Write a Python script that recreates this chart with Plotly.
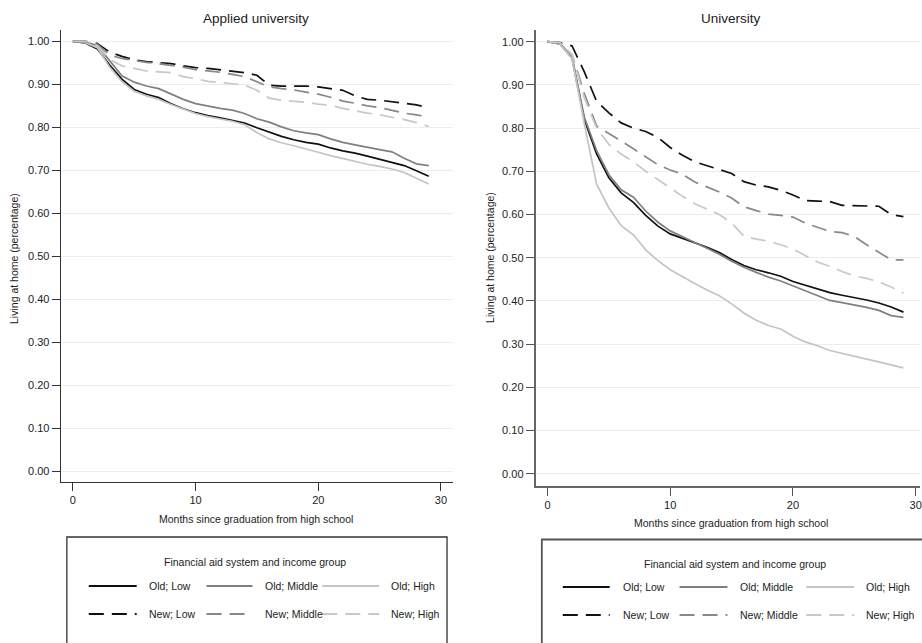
import plotly.graph_objects as go

W, H = 922, 643

months = list(range(30))

# Applied university
au_old_low = [1.0, 0.996, 0.982, 0.945, 0.912, 0.888, 0.877, 0.869, 0.855, 0.843, 0.834, 0.827, 0.822, 0.816, 0.810,
              0.799, 0.789, 0.779, 0.771, 0.765, 0.761, 0.752, 0.745, 0.740, 0.733, 0.726, 0.719, 0.711, 0.699, 0.686]
au_old_mid = [1.0, 0.998, 0.990, 0.955, 0.920, 0.905, 0.896, 0.890, 0.877, 0.865, 0.855, 0.849, 0.844, 0.840, 0.832,
              0.820, 0.812, 0.801, 0.792, 0.787, 0.783, 0.773, 0.765, 0.759, 0.753, 0.748, 0.743, 0.728, 0.715, 0.711]
au_old_high = [1.0, 0.997, 0.985, 0.940, 0.906, 0.884, 0.873, 0.865, 0.853, 0.842, 0.832, 0.825, 0.820, 0.814, 0.806,
               0.788, 0.773, 0.764, 0.757, 0.750, 0.742, 0.734, 0.727, 0.720, 0.714, 0.709, 0.703, 0.695, 0.682, 0.668]
au_new_low = [1.0, 1.0, 0.995, 0.975, 0.965, 0.957, 0.953, 0.951, 0.948, 0.943, 0.939, 0.937, 0.934, 0.931, 0.927,
              0.921, 0.898, 0.896, 0.896, 0.896, 0.894, 0.890, 0.886, 0.873, 0.865, 0.863, 0.860, 0.856, 0.852, 0.846]
au_new_mid = [1.0, 1.0, 0.993, 0.968, 0.960, 0.955, 0.951, 0.948, 0.944, 0.940, 0.934, 0.931, 0.928, 0.923, 0.918,
              0.906, 0.894, 0.890, 0.887, 0.882, 0.877, 0.870, 0.861, 0.856, 0.850, 0.846, 0.840, 0.833, 0.829, 0.824]
au_new_high = [1.0, 1.0, 0.990, 0.958, 0.943, 0.937, 0.931, 0.929, 0.927, 0.918, 0.912, 0.907, 0.904, 0.901, 0.898,
               0.886, 0.868, 0.863, 0.861, 0.858, 0.854, 0.851, 0.844, 0.838, 0.833, 0.829, 0.824, 0.818, 0.811, 0.802]

# University
u_old_low = [1.0, 0.995, 0.962, 0.820, 0.740, 0.685, 0.650, 0.628, 0.598, 0.573, 0.555, 0.545, 0.535, 0.524, 0.512,
             0.496, 0.482, 0.472, 0.465, 0.457, 0.445, 0.436, 0.427, 0.419, 0.413, 0.408, 0.402, 0.395, 0.386, 0.374]
u_old_mid = [1.0, 0.997, 0.965, 0.825, 0.748, 0.692, 0.657, 0.640, 0.608, 0.582, 0.562, 0.548, 0.535, 0.522, 0.508,
             0.492, 0.478, 0.466, 0.455, 0.446, 0.435, 0.424, 0.413, 0.401, 0.396, 0.391, 0.385, 0.378, 0.366, 0.362]
u_old_high = [1.0, 0.995, 0.960, 0.810, 0.670, 0.615, 0.574, 0.553, 0.518, 0.493, 0.472, 0.455, 0.440, 0.425, 0.412,
              0.393, 0.372, 0.355, 0.343, 0.335, 0.318, 0.305, 0.296, 0.285, 0.278, 0.272, 0.265, 0.259, 0.252, 0.245]
u_new_low = [1.0, 0.998, 0.990, 0.930, 0.862, 0.835, 0.812, 0.800, 0.792, 0.778, 0.755, 0.737, 0.722, 0.713, 0.703,
             0.695, 0.676, 0.668, 0.664, 0.656, 0.645, 0.632, 0.631, 0.630, 0.621, 0.620, 0.620, 0.619, 0.600, 0.595]
u_new_mid = [1.0, 0.998, 0.970, 0.880, 0.805, 0.788, 0.770, 0.752, 0.733, 0.715, 0.703, 0.693, 0.675, 0.664, 0.652,
             0.638, 0.618, 0.609, 0.601, 0.598, 0.594, 0.580, 0.570, 0.561, 0.558, 0.549, 0.530, 0.512, 0.495, 0.495]
u_new_high = [1.0, 0.998, 0.970, 0.870, 0.800, 0.762, 0.740, 0.722, 0.700, 0.680, 0.660, 0.642, 0.625, 0.612, 0.600,
              0.580, 0.550, 0.543, 0.538, 0.530, 0.520, 0.505, 0.490, 0.480, 0.468, 0.458, 0.452, 0.444, 0.432, 0.418]

series_names = ["Old; Low", "Old; Middle", "Old; High", "New; Low", "New; Middle", "New; High"]
panel_titles = ["Applied university", "University"]
x_title = "Months since graduation from high school"
y_title = "Living at home (percentage)"
legend_title = "Financial aid system and income group"
x_ticks = [0, 10, 20, 30]
y_ticks = [0.0, 0.1, 0.2, 0.3, 0.4, 0.5, 0.6, 0.7, 0.8, 0.9, 1.0]

colors = ["#111111", "#808080", "#c4c4c4", "#111111", "#888888", "#c8c8c8"]
DASH = "15px,8px"
dashes = ["solid", "solid", "solid", DASH, DASH, DASH]

FONT = "Liberation Sans, Arial, Helvetica, sans-serif"
TXT = "#222222"


def px(x):
    return x / W


def py(y):
    return 1 - y / H


fig = go.Figure()

panels = [
    [au_old_low, au_old_mid, au_old_high, au_new_low, au_new_mid, au_new_high],
    [u_old_low, u_old_mid, u_old_high, u_new_low, u_new_mid, u_new_high],
]
for pi, data in enumerate(panels):
    xa = "x" if pi == 0 else "x2"
    ya = "y" if pi == 0 else "y2"
    for si, vals in enumerate(data):
        fig.add_trace(go.Scatter(
            x=months, y=vals, mode="lines", name=series_names[si],
            line=dict(color=colors[si], width=1.7, dash=dashes[si]),
            xaxis=xa, yaxis=ya, showlegend=False,
        ))

axis_common = dict(
    ticks="outside", ticklen=8, showline=True, zeroline=False,
    tickfont=dict(family=FONT, size=11, color=TXT),
    fixedrange=True, ticklabeloverflow="allow",
)

# Left panel: plot area x 61..454, y 30..482
fig.update_layout(
    xaxis=dict(domain=[px(61), px(454)], range=[-0.976, 30.98], tickvals=x_ticks,
               showgrid=False, linecolor="#333333", linewidth=1.4, tickcolor="#333333",
               tickwidth=1.2, anchor="y", **axis_common),
    yaxis=dict(domain=[py(482), py(30)], range=[-0.0249, 1.0263], tickvals=y_ticks,
               tickformat=".2f", showgrid=True, gridcolor="#e6eff1", gridwidth=1,
               linecolor="#333333", linewidth=1.4, tickcolor="#333333", tickwidth=1.2,
               anchor="x", **axis_common),
    xaxis2=dict(domain=[px(537), 1.0], range=[-0.951, 30.35], tickvals=x_ticks,
                showgrid=False, linecolor="#666666", linewidth=2.2, tickcolor="#555555",
                tickwidth=1.2, anchor="y2", **axis_common),
    yaxis2=dict(domain=[py(485.7), py(30)], range=[-0.0278, 1.027], tickvals=y_ticks,
                tickformat=".2f", showgrid=True, gridcolor="#e6eff1", gridwidth=1,
                linecolor="#666666", linewidth=2.2, tickcolor="#555555", tickwidth=1.2,
                anchor="x2", **axis_common),
)

annotations = []
shapes = []

geo = [
    dict(title_x=257, title_y=18, xt_x=257, xt_y=519, yt_x=14, yt_y=258,
         box=(67, 537, 448), leg_title=(256, 562), rows=(586, 614),
         cols=[(89, 137, 147), (207, 253, 264), (323, 380, 390)], boxcolor="#333333", boxw=1.3),
    dict(title_x=733, title_y=18, xt_x=733, xt_y=523, yt_x=491, yt_y=257,
         box=(543, 539.5, 960), leg_title=(737, 564), rows=(587, 615),
         cols=[(564, 611, 622), (681, 729, 740), (808, 856, 866)], boxcolor="#555555", boxw=1.8),
]

for pi, g in enumerate(geo):
    annotations.append(dict(text=panel_titles[pi], x=px(g["title_x"]), y=py(g["title_y"]),
                            xref="paper", yref="paper", showarrow=False, xanchor="center", yanchor="middle",
                            font=dict(family=FONT, size=13.5, color=TXT)))
    annotations.append(dict(text=x_title, x=px(g["xt_x"]), y=py(g["xt_y"]),
                            xref="paper", yref="paper", showarrow=False, xanchor="center", yanchor="middle",
                            font=dict(family=FONT, size=10.5, color=TXT)))
    annotations.append(dict(text=y_title, x=px(g["yt_x"]), y=py(g["yt_y"]), textangle=-90,
                            xref="paper", yref="paper", showarrow=False, xanchor="center", yanchor="middle",
                            font=dict(family=FONT, size=10.5, color=TXT)))
    bx0, by0, bx1 = g["box"]
    shapes.append(dict(type="rect", xref="paper", yref="paper", x0=px(bx0), x1=px(bx1),
                       y0=py(by0), y1=py(H + 30), line=dict(color=g["boxcolor"], width=g["boxw"]),
                       fillcolor="rgba(0,0,0,0)"))
    annotations.append(dict(text=legend_title, x=px(g["leg_title"][0]), y=py(g["leg_title"][1]),
                            xref="paper", yref="paper", showarrow=False, xanchor="center", yanchor="middle",
                            font=dict(family=FONT, size=10.5, color=TXT)))
    for si in range(6):
        row = si // 3
        col = si % 3
        lx0, lx1, tx = g["cols"][col]
        yy = g["rows"][row]
        shapes.append(dict(type="line", xref="paper", yref="paper", x0=px(lx0), x1=px(lx1),
                           y0=py(yy), y1=py(yy),
                           line=dict(color=colors[si], width=1.8, dash=dashes[si])))
        annotations.append(dict(text=series_names[si], x=px(tx), y=py(yy),
                                xref="paper", yref="paper", showarrow=False, xanchor="left", yanchor="middle",
                                font=dict(family=FONT, size=10.5, color=TXT)))

fig.update_layout(
    width=W, height=H,
    margin=dict(l=0, r=0, t=0, b=0),
    paper_bgcolor="white", plot_bgcolor="white",
    showlegend=False,
    annotations=annotations,
    shapes=shapes,
    font=dict(family=FONT, color=TXT),
)

fig.write_html("out.html")
